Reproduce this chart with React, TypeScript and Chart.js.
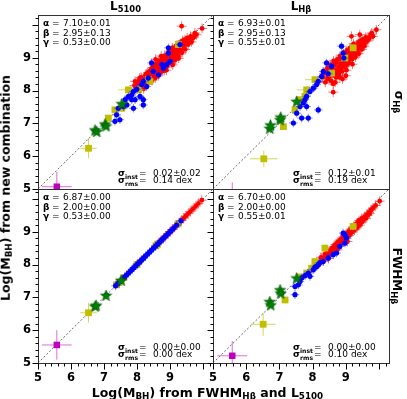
import React, { useEffect, useRef } from 'react';
import { Chart, registerables } from 'chart.js';

Chart.register(...registerables);

// ---------------- data ----------------
const AXIS_MIN = 5;
const AXIS_MAX = 10.3;
const TICK_STEP = 0.2;
const LABELED_TICKS = [5, 6, 7, 8, 9];

// Top-left panel: L5100 / sigma_Hb
const tlRedX = [7.92, 7.94, 8.00, 8.05, 8.10, 8.12, 8.18, 8.20, 8.25, 8.28, 8.30, 8.33, 8.36, 8.40, 8.42, 8.45, 8.47, 8.50, 8.52, 8.55, 8.57, 8.60, 8.62, 8.64, 8.66, 8.68, 8.70, 8.72, 8.75, 8.77, 8.80, 8.82, 8.84, 8.86, 8.88, 8.90, 8.92, 8.95, 8.97, 9.00, 9.02, 9.05, 9.07, 9.10, 9.12, 9.15, 9.18, 9.20, 9.22, 9.25, 9.28, 9.30, 9.33, 9.36, 9.40, 9.43, 9.46, 9.50, 9.55, 9.60, 9.65, 9.72, 9.80, 9.35, 9.97,
  8.02, 8.08, 8.15, 8.22, 8.27, 8.32, 8.38, 8.43, 8.48, 8.53, 8.58, 8.63, 8.67, 8.71, 8.74, 8.79, 8.83, 8.87, 8.91, 8.94, 8.98, 9.03, 9.06, 9.09, 9.13, 9.17, 9.21, 9.24, 9.27, 9.31, 9.34, 9.38, 9.42, 9.45, 9.48, 9.52, 9.57, 9.62, 9.68, 9.75, 8.56, 8.73, 8.89, 9.08, 9.26];
const tlRedY = [8.15, 8.28, 8.05, 8.30, 8.12, 8.40, 8.25, 8.05, 8.45, 8.20, 8.35, 8.55, 8.28, 8.60, 8.42, 8.30, 8.70, 8.50, 8.62, 8.38, 8.80, 8.55, 8.70, 8.45, 8.90, 8.62, 8.78, 8.55, 8.95, 8.70, 8.85, 8.60, 9.05, 8.78, 8.95, 8.72, 9.10, 8.88, 9.20, 8.95, 9.05, 8.82, 9.30, 9.00, 9.15, 8.92, 9.35, 9.10, 9.25, 9.05, 9.40, 9.20, 9.30, 9.15, 9.45, 9.35, 9.25, 9.50, 9.40, 9.55, 9.48, 9.62, 9.70, 9.96, 9.89,
  8.22, 8.38, 8.18, 8.32, 8.50, 8.25, 8.48, 8.65, 8.40, 8.75, 8.48, 8.82, 8.58, 8.88, 8.68, 8.98, 8.72, 9.00, 8.82, 9.12, 8.85, 9.22, 8.98, 9.12, 9.25, 9.05, 9.38, 9.18, 9.30, 9.42, 9.28, 9.52, 9.38, 9.55, 9.42, 9.60, 9.50, 9.65, 9.60, 9.75, 8.95, 9.05, 8.62, 8.78, 8.98];
const tlBlueX = [8.95, 9.00, 8.90, 8.75, 8.80, 8.44, 8.49, 8.65, 8.34, 8.19, 8.14, 8.29, 7.99, 7.89, 7.84, 7.74, 7.64, 7.84, 7.94, 8.09, 8.19, 7.69, 7.59, 7.43, 7.38, 7.48, 7.33, 7.03, 7.89, 8.19, 9.30, 8.95];
const tlBlueY = [9.14, 8.89, 8.79, 8.79, 8.68, 8.84, 8.58, 8.48, 8.38, 8.28, 8.18, 8.12, 8.04, 7.97, 7.87, 7.82, 7.72, 7.72, 7.72, 7.82, 7.72, 7.56, 7.51, 7.46, 7.26, 7.11, 7.06, 6.95, 7.46, 7.56, 9.40, 9.30];
const tlYellowX = [9.25, 8.34, 8.39, 7.74, 7.54, 7.33, 7.13, 6.53, 8.05];
const tlYellowY = [9.40, 8.33, 8.28, 8.02, 7.46, 7.41, 7.16, 6.24, 8.02];
const tlYellowEx = [0.1, 0.1, 0.1, 0.3, 0.1, 0.1, 0.1, 0.25, 0.15];
const tlYellowEy = [0.1, 0.1, 0.1, 0.1, 0.1, 0.1, 0.1, 0.3, 0.1];
const tlGreenX = [6.73, 6.78, 7.03, 7.06, 7.54];
const tlGreenY = [6.80, 6.75, 6.98, 6.92, 7.60];
const tlMagentaX = [5.57];
const tlMagentaY = [5.07];

// Top-right panel: L_Hb / sigma_Hb
const trRedX = [8.30, 8.38, 8.42, 8.45, 8.50, 8.52, 8.55, 8.58, 8.60, 8.62, 8.65, 8.68, 8.70, 8.72, 8.75, 8.78, 8.80, 8.82, 8.85, 8.87, 8.90, 8.92, 8.95, 8.97, 9.00, 9.02, 9.05, 9.08, 9.10, 9.12, 9.15, 9.18, 9.20, 9.22, 9.25, 9.28, 9.30, 9.33, 9.35, 9.38, 9.40, 9.43, 9.46, 9.50, 9.55, 9.58, 9.62, 9.68, 9.75, 9.82, 9.92, 8.62, 8.90, 9.00, 9.17, 9.42,
  8.35, 8.44, 8.48, 8.53, 8.57, 8.63, 8.67, 8.71, 8.74, 8.79, 8.83, 8.86, 8.89, 8.93, 8.96, 8.99, 9.03, 9.06, 9.09, 9.13, 9.16, 9.19, 9.23, 9.26, 9.29, 9.32, 9.36, 9.39, 9.44, 9.48, 9.52, 9.56, 9.60, 9.65, 9.70, 9.78, 8.68, 8.82, 9.02, 9.20];
const trRedY = [8.40, 8.25, 8.55, 8.35, 8.60, 8.45, 8.30, 8.70, 8.52, 8.20, 8.78, 8.45, 8.62, 8.85, 8.55, 8.72, 8.95, 8.60, 8.82, 8.70, 9.00, 8.85, 8.72, 9.05, 8.90, 9.15, 8.80, 9.00, 9.20, 8.95, 9.10, 9.28, 9.02, 9.18, 9.35, 9.10, 9.25, 9.40, 9.20, 9.32, 9.48, 9.30, 9.40, 9.55, 9.42, 9.58, 9.50, 9.60, 9.70, 9.65, 9.85, 7.95, 8.35, 8.45, 9.65, 9.70,
  8.52, 8.68, 8.42, 8.78, 8.55, 8.90, 8.62, 8.40, 8.95, 8.50, 9.05, 8.78, 8.58, 9.10, 8.95, 8.75, 9.22, 8.98, 8.85, 9.30, 9.05, 8.95, 9.42, 9.15, 9.02, 9.38, 9.28, 9.12, 9.50, 9.25, 9.45, 9.35, 9.62, 9.52, 9.58, 9.75, 8.25, 8.40, 8.62, 8.80];
const trBlueX = [8.92, 8.87, 8.94, 8.57, 8.42, 8.47, 8.32, 8.27, 8.17, 8.12, 8.02, 7.92, 7.82, 7.77, 7.72, 7.82, 7.62, 7.52, 7.67, 7.87, 8.17, 7.42];
const trBlueY = [9.14, 9.35, 8.99, 8.74, 8.84, 8.51, 8.58, 8.43, 8.28, 8.18, 8.07, 7.97, 7.82, 7.72, 7.62, 7.51, 7.51, 7.31, 7.16, 7.16, 7.41, 7.01];
const trYellowX = [9.22, 8.97, 8.57, 8.07, 7.82, 7.77, 7.62, 7.47, 7.12, 6.53];
const trYellowY = [9.30, 8.99, 8.53, 8.33, 8.02, 7.82, 7.72, 7.41, 6.90, 5.92];
const trYellowEx = [0.1, 0.1, 0.1, 0.3, 0.3, 0.1, 0.1, 0.1, 0.1, 0.41];
const trYellowEy = [0.1, 0.1, 0.1, 0.1, 0.1, 0.1, 0.1, 0.1, 0.1, 0.25];
const trGreenX = [6.71, 6.73, 7.02, 7.04, 7.52];
const trGreenY = [6.85, 6.95, 7.11, 7.19, 7.67];
const trMagentaX = [5.58];
const trMagentaY = [4.75];

// Bottom-left panel: L5100 / FWHM_Hb (points on the identity line)
const blRedX = [8.58, 8.65, 8.72, 8.80, 8.86, 8.93, 9.00, 9.07, 9.14, 9.20, 9.27, 9.34, 9.41, 9.48, 9.55, 9.62, 9.70, 9.78, 9.86, 9.96, 8.02, 8.12];
const blRedY = [8.58, 8.65, 8.72, 8.80, 8.86, 8.93, 9.00, 9.07, 9.14, 9.20, 9.27, 9.34, 9.41, 9.48, 9.55, 9.62, 9.70, 9.78, 9.86, 9.96, 8.02, 8.12];
const blBlueX = [7.35, 7.42, 7.48, 7.55, 7.62, 7.68, 7.74, 7.80, 7.85, 7.90, 7.96, 8.02, 8.08, 8.14, 8.20, 8.26, 8.32, 8.38, 8.44, 8.50, 8.56, 8.62, 8.68, 8.75, 8.82, 8.88, 8.95, 9.02, 9.10, 9.20, 9.33, 7.07];
const blBlueY = [7.35, 7.42, 7.48, 7.55, 7.62, 7.68, 7.74, 7.80, 7.85, 7.90, 7.96, 8.02, 8.08, 8.14, 8.20, 8.26, 8.32, 8.38, 8.44, 8.50, 8.56, 8.62, 8.68, 8.75, 8.82, 8.88, 8.95, 9.02, 9.10, 9.20, 9.33, 7.07];
const blYellowX = [6.53, 7.38, 7.45, 7.60, 8.00, 8.57, 8.62, 9.24];
const blYellowY = [6.53, 7.38, 7.45, 7.60, 8.00, 8.57, 8.62, 9.24];
const blYellowEx = [0.25, 0.1, 0.1, 0.1, 0.15, 0.1, 0.1, 0.1];
const blYellowEy = [0.3, 0.1, 0.1, 0.1, 0.15, 0.1, 0.1, 0.1];
const blGreenX = [6.73, 6.76, 7.06, 7.52];
const blGreenY = [6.73, 6.76, 7.06, 7.52];
const blMagentaX = [5.57];
const blMagentaY = [5.55];

// Bottom-right panel: L_Hb / FWHM_Hb
const brRedX = [8.20, 8.28, 8.35, 8.40, 8.45, 8.50, 8.55, 8.58, 8.62, 8.66, 8.70, 8.74, 8.78, 8.82, 8.86, 8.90, 8.94, 8.98, 9.02, 9.06, 9.10, 9.14, 9.18, 9.22, 9.26, 9.30, 9.34, 9.38, 9.42, 9.46, 9.50, 9.55, 9.60, 9.66, 9.72, 9.82, 10.02, 8.48, 8.75, 9.05, 7.95, 8.05, 8.12,
  8.25, 8.32, 8.38, 8.43, 8.52, 8.60, 8.64, 8.68, 8.72, 8.76, 8.80, 8.84, 8.88, 8.92, 8.96, 9.00, 9.04, 9.08, 9.12, 9.16, 9.20, 9.24, 9.28, 9.32, 9.36, 9.40, 9.44, 9.48, 9.52, 9.58, 9.63, 9.69, 9.76, 9.90];
const brRedY = [8.05, 8.15, 8.20, 8.28, 8.25, 8.40, 8.35, 8.48, 8.42, 8.55, 8.50, 8.62, 8.58, 8.70, 8.65, 8.78, 8.72, 8.88, 8.80, 8.95, 8.88, 9.02, 8.98, 9.10, 9.05, 9.20, 9.12, 9.28, 9.20, 9.35, 9.30, 9.42, 9.40, 9.50, 9.55, 9.72, 9.93, 8.18, 8.45, 8.70, 7.82, 7.90, 7.98,
  8.22, 8.12, 8.32, 8.35, 8.32, 8.50, 8.48, 8.60, 8.56, 8.68, 8.64, 8.76, 8.72, 8.84, 8.80, 8.92, 8.86, 9.00, 8.94, 9.08, 9.02, 9.16, 9.12, 9.24, 9.20, 9.34, 9.30, 9.40, 9.38, 9.46, 9.50, 9.58, 9.66, 9.80];
const brBlueX = [8.92, 9.02, 8.97, 8.62, 8.47, 8.32, 8.17, 8.07, 8.02, 7.87, 7.77, 7.67, 7.62, 7.57, 7.47, 7.47, 7.07, 7.92, 8.22, 8.72, 8.82, 8.97, 8.12];
const brBlueY = [8.96, 8.81, 8.65, 8.30, 8.20, 8.09, 7.99, 7.92, 7.84, 7.74, 7.66, 7.59, 7.48, 7.38, 7.33, 7.08, 7.13, 7.64, 8.06, 8.35, 8.55, 8.91, 7.94];
const brYellowX = [9.22, 8.37, 7.97, 7.82, 7.62, 7.17, 6.51, 8.07];
const brYellowY = [9.16, 8.50, 7.89, 7.74, 7.62, 6.92, 6.18, 8.09];
const brYellowEx = [0.1, 0.1, 0.1, 0.1, 0.1, 0.1, 0.38, 0.1];
const brYellowEy = [0.1, 0.1, 0.1, 0.1, 0.1, 0.1, 0.35, 0.1];
const brGreenX = [6.71, 6.74, 7.02, 7.04, 7.52];
const brGreenY = [6.87, 6.77, 7.23, 7.13, 7.59];
const brMagentaX = [5.58];
const brMagentaY = [5.22];

// error bar sizes (dex)
const RED_ERR = 0.15;
const BLUE_ERR = 0.13;
const GREEN_ERR = 0.1;
const MAGENTA_ERR_X = [0.45];
const MAGENTA_ERR_Y = [0.45];

// fit parameters
const tlParams = ['7.10±0.01', '2.95±0.13', '0.53±0.00', '0.02±0.02', '0.14 dex'];
const trParams = ['6.93±0.01', '2.95±0.13', '0.55±0.01', '0.12±0.01', '0.19 dex'];
const blParams = ['6.87±0.00', '2.00±0.00', '0.53±0.00', '0.00±0.00', '0.00 dex'];
const brParams = ['6.70±0.00', '2.00±0.00', '0.55±0.01', '0.00±0.00', '0.10 dex'];

// ---------------- styling ----------------
const W = 407;
const H = 399;
const Y_AXIS_W = 30;
const X_AXIS_H = 25;
const FONT = '"DejaVu Sans", sans-serif';

const COL = { red: '#ff0000', blue: '#0000ff', yellow: '#bfbf00', green: '#008000', magenta: '#bf00bf' };
const ERRCOL = {
  red: 'rgba(255,30,30,0.6)',
  blue: 'rgba(40,40,255,0.55)',
  yellow: 'rgba(191,191,0,0.65)',
  green: 'rgba(0,128,0,0.5)',
  magenta: 'rgba(215,70,215,0.8)',
};

type Series = { x: number[]; y: number[]; ex: number | number[]; ey: number | number[] };
type Panel = {
  box: { left: number; right: number; top: number; bottom: number };
  xLabels: boolean;
  yLabels: boolean;
  xTicks: boolean;
  params: string[];
  red: Series; blue: Series; yellow: Series; green: Series; magenta: Series;
};

const PANELS: Panel[] = [
  {
    box: { left: 38, right: 213, top: 15, bottom: 189 }, xLabels: false, yLabels: true, xTicks: false, params: tlParams,
    red: { x: tlRedX, y: tlRedY, ex: RED_ERR, ey: RED_ERR },
    blue: { x: tlBlueX, y: tlBlueY, ex: BLUE_ERR, ey: BLUE_ERR },
    yellow: { x: tlYellowX, y: tlYellowY, ex: tlYellowEx, ey: tlYellowEy },
    green: { x: tlGreenX, y: tlGreenY, ex: GREEN_ERR, ey: GREEN_ERR },
    magenta: { x: tlMagentaX, y: tlMagentaY, ex: MAGENTA_ERR_X, ey: MAGENTA_ERR_Y },
  },
  {
    box: { left: 213, right: 389, top: 15, bottom: 189 }, xLabels: false, yLabels: false, xTicks: false, params: trParams,
    red: { x: trRedX, y: trRedY, ex: RED_ERR, ey: RED_ERR },
    blue: { x: trBlueX, y: trBlueY, ex: BLUE_ERR, ey: BLUE_ERR },
    yellow: { x: trYellowX, y: trYellowY, ex: trYellowEx, ey: trYellowEy },
    green: { x: trGreenX, y: trGreenY, ex: GREEN_ERR, ey: GREEN_ERR },
    magenta: { x: trMagentaX, y: trMagentaY, ex: MAGENTA_ERR_X, ey: MAGENTA_ERR_Y },
  },
  {
    box: { left: 38, right: 213, top: 189, bottom: 363 }, xLabels: true, yLabels: true, xTicks: true, params: blParams,
    red: { x: blRedX, y: blRedY, ex: RED_ERR, ey: RED_ERR },
    blue: { x: blBlueX, y: blBlueY, ex: BLUE_ERR, ey: BLUE_ERR },
    yellow: { x: blYellowX, y: blYellowY, ex: blYellowEx, ey: blYellowEy },
    green: { x: blGreenX, y: blGreenY, ex: GREEN_ERR, ey: GREEN_ERR },
    magenta: { x: blMagentaX, y: blMagentaY, ex: MAGENTA_ERR_X, ey: MAGENTA_ERR_Y },
  },
  {
    box: { left: 213, right: 389, top: 189, bottom: 363 }, xLabels: true, yLabels: false, xTicks: true, params: brParams,
    red: { x: brRedX, y: brRedY, ex: RED_ERR, ey: RED_ERR },
    blue: { x: brBlueX, y: brBlueY, ex: BLUE_ERR, ey: BLUE_ERR },
    yellow: { x: brYellowX, y: brYellowY, ex: brYellowEx, ey: brYellowEy },
    green: { x: brGreenX, y: brGreenY, ex: GREEN_ERR, ey: GREEN_ERR },
    magenta: { x: brMagentaX, y: brMagentaY, ex: MAGENTA_ERR_X, ey: MAGENTA_ERR_Y },
  },
];

function makeStar(): HTMLCanvasElement {
  const c = document.createElement('canvas');
  const s = 13;
  c.width = s; c.height = s;
  const g = c.getContext('2d')!;
  const cx = s / 2, cy = s / 2 + 0.5, ro = 6, ri = 2.5;
  g.beginPath();
  for (let i = 0; i < 10; i++) {
    const r = i % 2 === 0 ? ro : ri;
    const a = -Math.PI / 2 + (i * Math.PI) / 5;
    const px = cx + r * Math.cos(a), py = cy + r * Math.sin(a);
    if (i === 0) g.moveTo(px, py); else g.lineTo(px, py);
  }
  g.closePath();
  g.fillStyle = COL.green;
  g.fill();
  g.strokeStyle = '#005a00';
  g.lineWidth = 0.6;
  g.stroke();
  return c;
}

const errAt = (e: number | number[], i: number) => (Array.isArray(e) ? e[i] : e);

type Seg = { t: string; b?: boolean; sub?: boolean };
function drawRich(ctx: CanvasRenderingContext2D, x: number, y: number, segs: Seg[], size: number) {
  let cx = x;
  for (const s of segs) {
    const fs = s.sub ? size * 0.68 : size;
    ctx.font = `${s.b ? 'bold ' : ''}${fs}px ${FONT}`;
    ctx.fillText(s.t, cx, s.sub ? y + size * 0.28 : y);
    cx += ctx.measureText(s.t).width;
  }
}

function buildConfig(p: Panel, star: HTMLCanvasElement): any {
  const groups = [
    { key: 'magenta', s: p.magenta, style: 'rect', r: 4.6 },
    { key: 'green', s: p.green, style: star, r: 6 },
    { key: 'blue', s: p.blue, style: 'circle', r: 2.6 },
    { key: 'yellow', s: p.yellow, style: 'rect', r: 4.8 },
    { key: 'red', s: p.red, style: 'circle', r: 2.4 },
  ] as const;
  const errSets: (Series | null)[] = [];
  const errCols: string[] = [];
  const datasets: any[] = groups.map((g) => {
    errSets.push(g.s);
    errCols.push((ERRCOL as any)[g.key]);
    return {
      data: g.s.x.map((x, i) => ({ x, y: g.s.y[i] })),
      pointStyle: g.style,
      pointRadius: g.r,
      pointBackgroundColor: (COL as any)[g.key],
      pointBorderColor: (COL as any)[g.key],
      pointBorderWidth: 0,
      showLine: false,
    };
  });
  errSets.push(null);
  errCols.push('');
  datasets.push({
    data: [{ x: AXIS_MIN, y: AXIS_MIN }, { x: AXIS_MAX, y: AXIS_MAX }],
    showLine: true,
    pointRadius: 0,
    borderColor: '#444',
    borderWidth: 0.8,
    borderDash: [2, 2],
  });

  const tickCb = (v: any) => {
    const n = Number(v);
    const r = Math.round(n);
    return Math.abs(n - r) < 1e-6 && LABELED_TICKS.includes(r) ? String(r) : '';
  };
  const tickFont = { family: FONT, size: 11.5, weight: 'bold' as const };

  const decor = {
    id: 'decor',
    beforeDatasetDraw(chart: any, args: any) {
      const s = errSets[args.index];
      if (!s) return;
      const { ctx, chartArea: a } = chart;
      const xs = chart.scales.x, ys = chart.scales.y;
      ctx.save();
      ctx.beginPath();
      ctx.rect(a.left, a.top, a.right - a.left, a.bottom - a.top);
      ctx.clip();
      ctx.strokeStyle = errCols[args.index];
      ctx.lineWidth = 1;
      ctx.beginPath();
      s.x.forEach((x, i) => {
        const y = s.y[i];
        const ex = errAt(s.ex, i), ey = errAt(s.ey, i);
        const px = xs.getPixelForValue(x), py = ys.getPixelForValue(y);
        ctx.moveTo(xs.getPixelForValue(x - ex), py);
        ctx.lineTo(xs.getPixelForValue(x + ex), py);
        ctx.moveTo(px, ys.getPixelForValue(y - ey));
        ctx.lineTo(px, ys.getPixelForValue(y + ey));
      });
      ctx.stroke();
      ctx.restore();
    },
    afterDraw(chart: any) {
      const { ctx, chartArea: a } = chart;
      const xs = chart.scales.x, ys = chart.scales.y;
      ctx.save();
      ctx.strokeStyle = '#333';
      ctx.lineWidth = 1;
      ctx.strokeRect(a.left + 0.5, a.top + 0.5, a.right - a.left, a.bottom - a.top);
      ctx.strokeStyle = '#000';
      ctx.beginPath();
      ys.ticks.forEach((t: any) => {
        const v = t.value;
        const major = Math.abs(v - Math.round(v)) < 1e-6;
        const py = Math.round(ys.getPixelForValue(v)) + 0.5;
        ctx.moveTo(a.left + 0.5, py);
        ctx.lineTo(a.left + 0.5 - (major ? 6 : 3), py);
      });
      if (p.xTicks) {
        xs.ticks.forEach((t: any) => {
          const v = t.value;
          const major = Math.abs(v - Math.round(v)) < 1e-6;
          const px = Math.round(xs.getPixelForValue(v)) + 0.5;
          ctx.moveTo(px, a.bottom + 0.5);
          ctx.lineTo(px, a.bottom + 0.5 + (major ? 6 : 3));
        });
      }
      ctx.stroke();
      ctx.fillStyle = '#000';
      ctx.textBaseline = 'alphabetic';
      ctx.textAlign = 'left';
      const size = 9;
      const names = ['α', 'β', 'γ'];
      names.forEach((nm, i) => {
        const y = a.top + 11 + i * 9.5;
        drawRich(ctx, a.left + 5, y, [{ t: nm, b: true }], size);
        drawRich(ctx, a.left + 14, y, [{ t: '=' }], size);
        drawRich(ctx, a.left + 25, y, [{ t: p.params[i] }], size);
      });
      const sig = [
        { sub: 'inst', val: p.params[3], y: a.bottom - 13 },
        { sub: 'rms', val: p.params[4], y: a.bottom - 6 },
      ];
      sig.forEach((s) => {
        drawRich(ctx, a.left + 80, s.y, [{ t: 'σ', b: true }, { t: s.sub, b: true, sub: true }], size);
        drawRich(ctx, a.left + 101, s.y, [{ t: '=' }], size);
        drawRich(ctx, a.left + 115, s.y, [{ t: s.val }], size);
      });
      ctx.restore();
    },
  };

  return {
    type: 'scatter',
    data: { datasets },
    plugins: [decor],
    options: {
      responsive: false,
      animation: false,
      devicePixelRatio: 1,
      layout: {
        padding: {
          left: p.box.left - Y_AXIS_W,
          right: W - p.box.right,
          top: p.box.top,
          bottom: H - p.box.bottom - X_AXIS_H,
        },
      },
      plugins: { legend: { display: false }, tooltip: { enabled: false }, title: { display: false } },
      scales: {
        x: {
          type: 'linear',
          min: AXIS_MIN,
          max: AXIS_MAX,
          afterFit: (s: any) => { s.height = X_AXIS_H; },
          grid: { display: false, drawTicks: false },
          border: { display: false },
          ticks: {
            display: p.xLabels, stepSize: TICK_STEP, autoSkip: false, includeBounds: false,
            maxRotation: 0, minRotation: 0, padding: 8, color: '#000', font: tickFont, callback: tickCb,
          },
        },
        y: {
          type: 'linear',
          min: AXIS_MIN,
          max: AXIS_MAX,
          afterFit: (s: any) => { s.width = Y_AXIS_W; },
          grid: { display: false, drawTicks: false },
          border: { display: false },
          ticks: {
            display: p.yLabels, stepSize: TICK_STEP, autoSkip: false, includeBounds: false,
            padding: 7, color: '#000', font: tickFont, callback: tickCb,
          },
        },
      },
    },
  };
}

const subStyle: React.CSSProperties = { fontSize: '0.7em', position: 'relative', top: '0.28em' };
const labelBase: React.CSSProperties = {
  position: 'absolute',
  fontFamily: FONT,
  fontWeight: 'bold',
  color: '#000',
  whiteSpace: 'nowrap',
  lineHeight: 1,
};

export default function App() {
  const canvases = useRef<(HTMLCanvasElement | null)[]>([]);
  useEffect(() => {
    const star = makeStar();
    const charts = PANELS.map((p, i) => new Chart(canvases.current[i]!, buildConfig(p, star)));
    return () => charts.forEach((c) => c.destroy());
  }, []);

  return (
    <div style={{ position: 'absolute', left: 0, top: 0, width: W, height: H, background: '#fff', overflow: 'hidden' }}>
      {PANELS.map((_, i) => (
        <canvas
          key={i}
          ref={(el) => { canvases.current[i] = el; }}
          width={W}
          height={H}
          style={{ position: 'absolute', left: 0, top: 0, width: W, height: H }}
        />
      ))}
      <div style={{ ...labelBase, fontSize: 12, left: 125.5, top: 6, transform: 'translate(-50%,-50%)' }}>
        L<span style={subStyle}>5100</span>
      </div>
      <div style={{ ...labelBase, fontSize: 12, left: 301, top: 6, transform: 'translate(-50%,-50%)' }}>
        L<span style={subStyle}>Hβ</span>
      </div>
      <div style={{ ...labelBase, fontSize: 12.5, left: 207.5, top: 392.5, transform: 'translate(-50%,-50%)' }}>
        Log(M<span style={subStyle}>BH</span>) from FWHM<span style={subStyle}>Hβ</span> and L<span style={subStyle}>5100</span>
      </div>
      <div style={{ ...labelBase, fontSize: 12.5, left: 6, top: 188, transform: 'translate(-50%,-50%) rotate(-90deg)' }}>
        Log(M<span style={subStyle}>BH</span>) from new combination
      </div>
      <div style={{ ...labelBase, fontSize: 12, left: 399, top: 102, transform: 'translate(-50%,-50%) rotate(90deg)' }}>
        σ<span style={subStyle}>Hβ</span>
      </div>
      <div style={{ ...labelBase, fontSize: 12, left: 397, top: 276, transform: 'translate(-50%,-50%) rotate(90deg)' }}>
        FWHM<span style={subStyle}>Hβ</span>
      </div>
    </div>
  );
}
